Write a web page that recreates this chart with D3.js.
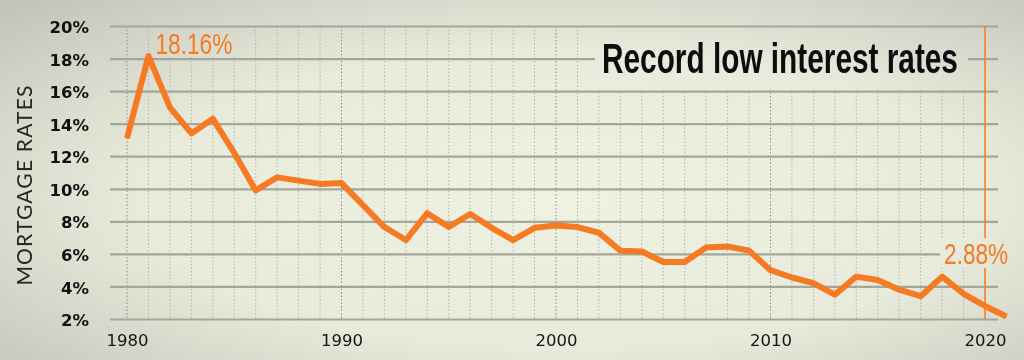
<!DOCTYPE html>
<html>
<head>
<meta charset="utf-8">
<script src="https://cdn.jsdelivr.net/npm/d3@7"></script>
<style>
    html, body { margin: 0; padding: 0; background: #e4e6d7; }
    svg { display: block; }
</style>
</head>
<body>
<svg id="chart" width="1024" height="360"></svg>
<script>
// mortgage rates per year
const years = [1980, 1981, 1982, 1983, 1984, 1985, 1986, 1987, 1988, 1989,
    1990, 1991, 1992, 1993, 1994, 1995, 1996, 1997, 1998, 1999,
    2000, 2001, 2002, 2003, 2004, 2005, 2006, 2007, 2008, 2009,
    2010, 2011, 2012, 2013, 2014, 2015, 2016, 2017, 2018, 2019,
    2020, 2021]
const rates = [13.1, 18.16, 15.0, 13.4, 14.3, 12.2, 9.9, 10.7, 10.5, 10.3,
    10.35, 9.0, 7.65, 6.85, 8.5, 7.65, 8.45, 7.6, 6.85, 7.6,
    7.75, 7.65, 7.3, 6.2, 6.15, 5.5, 5.5, 6.4, 6.45, 6.2,
    5.0, 4.55, 4.2, 3.5, 4.6, 4.4, 3.8, 3.4, 4.6, 3.55,
    2.8, 2.15]

const yTicks = [2, 4, 6, 8, 10, 12, 14, 16, 18, 20]
const xTicks = [1980, 1990, 2000, 2010, 2020]
const title = 'Record low interest rates'
const yTitle = 'MORTGAGE RATES'
const peakLabel = '18.16%'
const lowLabel = '2.88%'

const orange = '#f57a22'
const gridCol = '#a4a69c'

const width = 1024, height = 360

const svg = d3.select('#chart')
const defs = svg.append('defs')

// paper-ish background with a dark vignette
const grad = defs.append('radialGradient')
    .attr('id', 'bg')
    .attr('cx', '55%').attr('cy', '55%').attr('r', '75%')
grad.append('stop').attr('offset', '0%').attr('stop-color', '#eff1e2')
grad.append('stop').attr('offset', '55%').attr('stop-color', '#e8eadb')
grad.append('stop').attr('offset', '100%').attr('stop-color', '#c4c5ba')

svg.append('rect')
    .attr('width', width).attr('height', height)
    .attr('fill', 'url(#bg)')

const x = d3.scaleLinear().domain([1980, 2020]).range([127, 985])
const y = d3.scaleLinear().domain([2, 20]).range([319, 26])

const gridLeft = 110, gridRight = 998

// label boxes punch holes in the grid
const holes = [
    { x: 595, y: 28, w: 373, h: 62 },
    { x: x(1981) + 4, y: 29, w: 84, h: 28 },
    { x: x(2018) - 2, y: y(6) - 16, w: 72, h: 30 }
]
const mask = defs.append('mask').attr('id', 'gridMask')
    .attr('maskUnits', 'userSpaceOnUse')
    .attr('x', 0).attr('y', 0).attr('width', width).attr('height', height)
mask.append('rect').attr('width', width).attr('height', height).attr('fill', 'white')
mask.selectAll('.hole')
    .data(holes)
    .enter()
    .append('rect')
    .attr('class', 'hole')
    .attr('x', d => d.x).attr('y', d => d.y)
    .attr('width', d => d.w).attr('height', d => d.h)
    .attr('fill', 'black')

const grid = svg.append('g').attr('mask', 'url(#gridMask)')

// dotted year lines
grid.selectAll('.yearLine')
    .data(years.filter(d => d < 2020))
    .enter()
    .append('line')
    .attr('class', 'yearLine')
    .attr('x1', d => x(d)).attr('x2', d => x(d))
    .attr('y1', y(20)).attr('y2', y(2))
    .attr('stroke', d => d % 10 == 0 ? '#8d8f86' : '#b3b5aa')
    .attr('stroke-width', 1)
    .attr('stroke-dasharray', '1.5,2')

// horizontal grid + y labels
const yAxis = d3.axisLeft(y)
    .tickValues(yTicks)
    .tickSizeInner(-(gridRight - gridLeft))
    .tickSizeOuter(0)
    .tickPadding(21)
    .tickFormat(d => d + '%')

const yG = grid.append('g')
    .attr('transform', `translate(${gridLeft},0)`)
    .call(yAxis)
yG.select('.domain').remove()
yG.selectAll('.tick line')
    .attr('stroke', gridCol)
    .attr('stroke-width', 2.2)
yG.selectAll('.tick text')
    .attr('fill', '#111')
    .attr('dy', '0.4em')
    .style('font-family', '"DejaVu Sans", sans-serif')
    .style('font-weight', 'bold')
    .style('font-size', '16.5px')

// 2020 marker line
grid.append('line')
    .attr('x1', x(2020)).attr('x2', x(2020))
    .attr('y1', y(20)).attr('y2', y(2))
    .attr('stroke', orange)
    .attr('stroke-width', 1.5)

// x labels
const xAxis = d3.axisBottom(x)
    .tickValues(xTicks)
    .tickSize(0)
    .tickPadding(15)
    .tickFormat(d3.format('d'))

const xG = svg.append('g')
    .attr('transform', `translate(0,${y(2)})`)
    .call(xAxis)
xG.select('.domain').remove()
xG.selectAll('.tick text')
    .attr('fill', '#151515')
    .style('font-family', '"DejaVu Sans", sans-serif')
    .style('font-size', '16.5px')

// the rate line
const line = d3.line()
    .x(d => x(d.year))
    .y(d => y(d.rate))

const series = years.map((yr, i) => ({ year: yr, rate: rates[i] }))

svg.append('path')
    .datum(series)
    .attr('d', line)
    .attr('fill', 'none')
    .attr('stroke', orange)
    .attr('stroke-width', 6)
    .attr('stroke-linejoin', 'round')

// squeeze a text horizontally so it spans the wanted width
function fitText(sel, x0, y0, w) {
    var natural = sel.node().getComputedTextLength()
    var sx = w / natural
    sel.attr('transform', `translate(${x0},${y0}) scale(${sx},1)`)
}

// annotations
var peak = svg.append('text')
    .attr('fill', orange)
    .style('font-family', '"Liberation Sans Narrow", sans-serif')
    .style('font-size', '30px')
    .text(peakLabel)
fitText(peak, x(1981) + 7, y(18) - 5, 77)

var low = svg.append('text')
    .attr('fill', orange)
    .style('font-family', '"Liberation Sans Narrow", sans-serif')
    .style('font-size', '30px')
    .text(lowLabel)
fitText(low, x(2018) + 2, y(6) + 10, 64)

// title
var ttl = svg.append('text')
    .attr('fill', '#0d0d0d')
    .style('font-family', '"Liberation Sans Narrow", sans-serif')
    .style('font-weight', 'bold')
    .style('font-size', '42px')
    .text(title)
fitText(ttl, 602, 73, 356)

// y axis title
svg.append('text')
    .attr('transform', 'translate(32,185) rotate(-90)')
    .attr('text-anchor', 'middle')
    .attr('letter-spacing', '1.2px')
    .attr('fill', '#262626')
    .style('font-family', 'Lato, sans-serif')
    .style('font-weight', 400)
    .style('font-size', '21px')
    .text(yTitle)
</script>
</body>
</html>
